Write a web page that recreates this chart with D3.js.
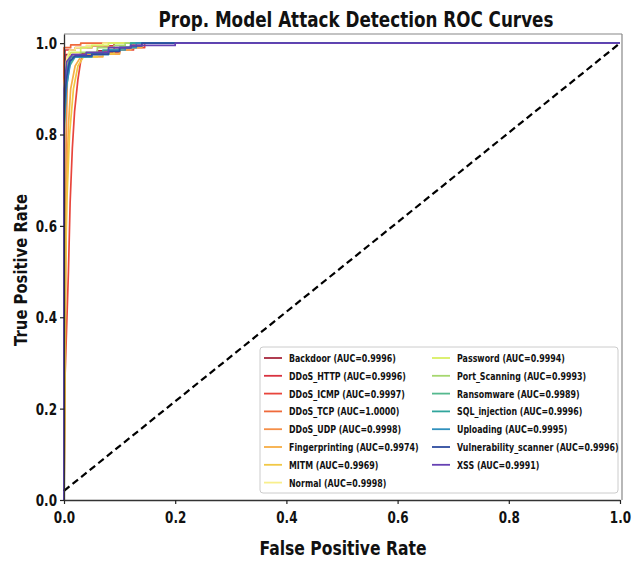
<!DOCTYPE html>
<html>
<head>
<meta charset="utf-8">
<script src="https://cdn.jsdelivr.net/npm/d3@7"></script>
<style>
  html, body { margin: 0; padding: 0; background: #ffffff; }
  svg text { font-family: "DejaVu Sans", sans-serif; font-weight: bold; fill: #111; }
</style>
</head>
<body>
<svg id="chart" width="632" height="563"></svg>
<script>
// ROC curves per class: [false positive rate, true positive rate]
const classNames = ["Backdoor", "DDoS_HTTP", "DDoS_ICMP", "DDoS_TCP", "DDoS_UDP",
  "Fingerprinting", "MITM", "Normal", "Password", "Port_Scanning", "Ransomware",
  "SQL_injection", "Uploading", "Vulnerability_scanner", "XSS"];
const aucValues = [0.9996, 0.9996, 0.9997, 1.0000, 0.9998, 0.9974, 0.9969, 0.9998,
  0.9994, 0.9993, 0.9989, 0.9996, 0.9995, 0.9996, 0.9991];
const classColors = ["#a8283e", "#d9323f", "#e8453c", "#ef6a3b", "#f58f48", "#f7ad45",
  "#f1c845", "#f8ef8c", "#d8ef62", "#a6d76f", "#55b98e", "#30a59c", "#3090bd",
  "#2d4b9f", "#6641b3"];

const rocBackdoor = [[0,0],[0,0.93],[0.002,0.96],[0.003,0.975],[0.03,0.975],[0.03,0.978],[0.06,0.978],[0.06,0.983],[0.09,0.983],[0.09,0.99],[0.12,0.99],[0.12,0.995],[0.14,0.995],[0.14,1],[1,1]];
const rocDdosHttp = [[0,0],[0,0.95],[0.002,0.985],[0.02,0.985],[0.02,0.99],[0.05,0.99],[0.05,0.994],[0.09,0.994],[0.09,1],[1,1]];
const rocDdosIcmp = [[0,0],[0,0.2],[0.004,0.35],[0.008,0.5],[0.011,0.65],[0.015,0.77],[0.019,0.85],[0.025,0.92],[0.03,0.96],[0.034,0.975],[0.07,0.975],[0.07,0.979],[0.1,0.979],[0.1,0.985],[0.125,0.985],[0.125,0.99],[0.145,0.99],[0.145,1],[1,1]];
const rocDdosTcp = [[0,0],[0,0.99],[0.012,0.99],[0.012,0.996],[0.03,0.996],[0.03,1],[1,1]];
const rocDdosUdp = [[0,0],[0.002,0.3],[0.003,0.6],[0.004,0.8],[0.006,0.92],[0.01,0.97],[0.04,0.97],[0.04,0.976],[0.08,0.976],[0.08,0.982],[0.1,0.982],[0.1,0.99],[0.125,0.99],[0.125,1],[1,1]];
const rocFingerprinting = [[0,0],[0.002,0.25],[0.003,0.5],[0.005,0.7],[0.008,0.82],[0.012,0.9],[0.02,0.95],[0.03,0.97],[0.07,0.97],[0.07,0.976],[0.1,0.976],[0.1,0.985],[0.12,0.985],[0.12,0.99],[0.14,0.99],[0.14,1],[1,1]];
const rocMitm = [[0,0],[0.001,0.2],[0.002,0.45],[0.005,0.65],[0.01,0.8],[0.017,0.9],[0.025,0.95],[0.035,0.97],[0.06,0.97],[0.06,0.977],[0.09,0.977],[0.09,0.985],[0.11,0.985],[0.11,0.99],[0.13,0.99],[0.13,1],[1,1]];
const rocNormal = [[0,0],[0,0.9],[0.004,0.96],[0.01,0.985],[0.02,0.985],[0.02,0.99],[0.04,0.99],[0.04,0.995],[0.07,0.995],[0.07,1],[1,1]];
const rocPassword = [[0,0],[0,0.88],[0.005,0.95],[0.012,0.98],[0.03,0.98],[0.03,0.99],[0.05,0.99],[0.05,0.995],[0.08,0.995],[0.08,1],[1,1]];
const rocPortScanning = [[0,0],[0,0.85],[0.004,0.93],[0.01,0.97],[0.03,0.97],[0.03,0.98],[0.06,0.98],[0.06,0.99],[0.09,0.99],[0.09,0.995],[0.11,0.995],[0.11,1],[1,1]];
const rocRansomware = [[0,0],[0,0.8],[0.004,0.9],[0.01,0.95],[0.02,0.97],[0.05,0.97],[0.05,0.976],[0.08,0.976],[0.08,0.985],[0.1,0.985],[0.1,0.99],[0.12,0.99],[0.12,1],[1,1]];
const rocSqlInjection = [[0,0],[0,0.86],[0.005,0.94],[0.012,0.97],[0.04,0.97],[0.04,0.978],[0.07,0.978],[0.07,0.985],[0.1,0.985],[0.1,0.99],[0.12,0.99],[0.12,1],[1,1]];
const rocUploading = [[0,0],[0,0.82],[0.005,0.91],[0.012,0.96],[0.02,0.97],[0.05,0.97],[0.05,0.975],[0.08,0.975],[0.08,0.985],[0.11,0.985],[0.11,0.99],[0.13,0.99],[0.13,1],[1,1]];
const rocVulnScanner = [[0,0],[0,0.85],[0.004,0.92],[0.01,0.96],[0.02,0.972],[0.05,0.972],[0.05,0.976],[0.08,0.976],[0.08,0.982],[0.1,0.982],[0.1,0.99],[0.12,0.99],[0.12,0.994],[0.14,0.994],[0.14,1],[1,1]];
const rocXss = [[0,0],[0,0.9],[0.005,0.96],[0.015,0.975],[0.04,0.975],[0.04,0.98],[0.08,0.98],[0.08,0.99],[0.12,0.99],[0.12,0.995],[0.2,0.995],[0.2,1],[1,1]];

const rocCurves = [rocBackdoor, rocDdosHttp, rocDdosIcmp, rocDdosTcp, rocDdosUdp,
  rocFingerprinting, rocMitm, rocNormal, rocPassword, rocPortScanning, rocRansomware,
  rocSqlInjection, rocUploading, rocVulnScanner, rocXss];

// chance diagonal
const chanceLine = [[0, 0.02], [1, 1]];

const xTicks = [0, 0.2, 0.4, 0.6, 0.8, 1.0];
const yTicks = [0, 0.2, 0.4, 0.6, 0.8, 1.0];

const chartTitle = "Prop. Model Attack Detection ROC Curves";
const xLabel = "False Positive Rate";
const yLabel = "True Positive Rate";

// ---- layout ----
const svg = d3.select("#chart");
const margin = { left: 64, right: 10, top: 34, bottom: 63 };
const W = 632, H = 563;
const plotW = W - margin.left - margin.right;
const plotH = H - margin.top - margin.bottom;
const SX = 0.8; // horizontal squeeze applied to all lettering

const x = d3.scaleLinear().domain([0, 1.0]).range([0, plotW - 2]);
const y = d3.scaleLinear().domain([0, 1.02]).range([plotH, 0]);

const g = svg.append("g").attr("transform", `translate(${margin.left},${margin.top})`);

g.append("rect").attr("width", plotW).attr("height", plotH).attr("fill", "#fff");

// frame
g.append("line").attr("x1", 0).attr("x2", plotW).attr("y1", 0).attr("y2", 0).attr("stroke", "#888").attr("stroke-width", 1.2);
g.append("line").attr("x1", plotW).attr("x2", plotW).attr("y1", 0).attr("y2", plotH).attr("stroke", "#888").attr("stroke-width", 1.2);

// curves
const line = d3.line().x(d => x(d[0])).y(d => y(d[1]));
g.append("g").selectAll("path")
  .data(rocCurves)
  .join("path")
  .attr("d", line)
  .attr("fill", "none")
  .attr("stroke", (d, i) => classColors[i])
  .attr("stroke-width", 1.7)
  .attr("stroke-linejoin", "round");

g.append("path")
  .attr("d", line(chanceLine))
  .attr("fill", "none")
  .attr("stroke", "#000")
  .attr("stroke-width", 2.2)
  .attr("stroke-dasharray", "7,4");

// axes (spines sit above the curves)
const xAxis = g.append("g").attr("transform", `translate(0,${plotH})`)
  .call(d3.axisBottom(x).tickValues(xTicks).tickFormat(d3.format(".1f")).tickSize(4).tickSizeOuter(0));
const yAxis = g.append("g")
  .call(d3.axisLeft(y).tickValues(yTicks).tickFormat(d3.format(".1f")).tickSize(4).tickSizeOuter(0));

[xAxis, yAxis].forEach(ax => {
  ax.select(".domain").attr("stroke", "#333").attr("stroke-width", 1.3);
  ax.selectAll(".tick line").attr("stroke", "#222").attr("stroke-width", 1.2);
  ax.selectAll(".tick text").attr("font-size", 15).attr("fill", "#111")
    .style("font-family", "DejaVu Sans").style("font-weight", "bold");
});
xAxis.selectAll(".tick text").attr("y", 0).attr("dy", "0")
  .attr("transform", `translate(0,23) scale(${SX},1)`);
yAxis.selectAll(".tick text").attr("x", 0).attr("dy", "0.36em")
  .attr("transform", `translate(-7,0) scale(${SX},1)`);

// titles
function squeezedText(parent, txt, px, py, size, anchor, rotate) {
  return parent.append("text")
    .attr("transform", `translate(${px},${py}) rotate(${rotate || 0}) scale(${SX},1)`)
    .attr("text-anchor", anchor)
    .attr("font-size", size)
    .text(txt);
}
squeezedText(svg, chartTitle, 356, 27, 21, "middle");
squeezedText(svg, xLabel, 343, 555, 19.5, "middle");
squeezedText(svg, yLabel, 27, 270, 18.5, "middle", -90);

// legend
const leg = svg.append("g").attr("transform", "translate(260,347)");
leg.append("rect").attr("width", 358).attr("height", 146).attr("rx", 3)
  .attr("fill", "#fff").attr("fill-opacity", 0.85).attr("stroke", "#ccc").attr("stroke-width", 1);

const perCol = 8;
const items = leg.selectAll("g.item")
  .data(classNames.map((n, i) => ({ name: n, auc: aucValues[i], color: classColors[i], i })))
  .join("g")
  .attr("class", "item")
  .attr("transform", d => `translate(${d.i < perCol ? 4 : 172},${11 + (d.i % perCol) * 17.8})`);
items.append("line").attr("x1", 0).attr("x2", 18).attr("y1", 0).attr("y2", 0)
  .attr("stroke", d => d.color).attr("stroke-width", 1.8);
items.append("text")
  .attr("transform", "translate(25,0) scale(0.7,1)")
  .attr("dy", "0.35em")
  .attr("font-size", 11.3)
  .text(d => `${d.name} (AUC=${d.auc.toFixed(4)})`);
</script>
</body>
</html>
